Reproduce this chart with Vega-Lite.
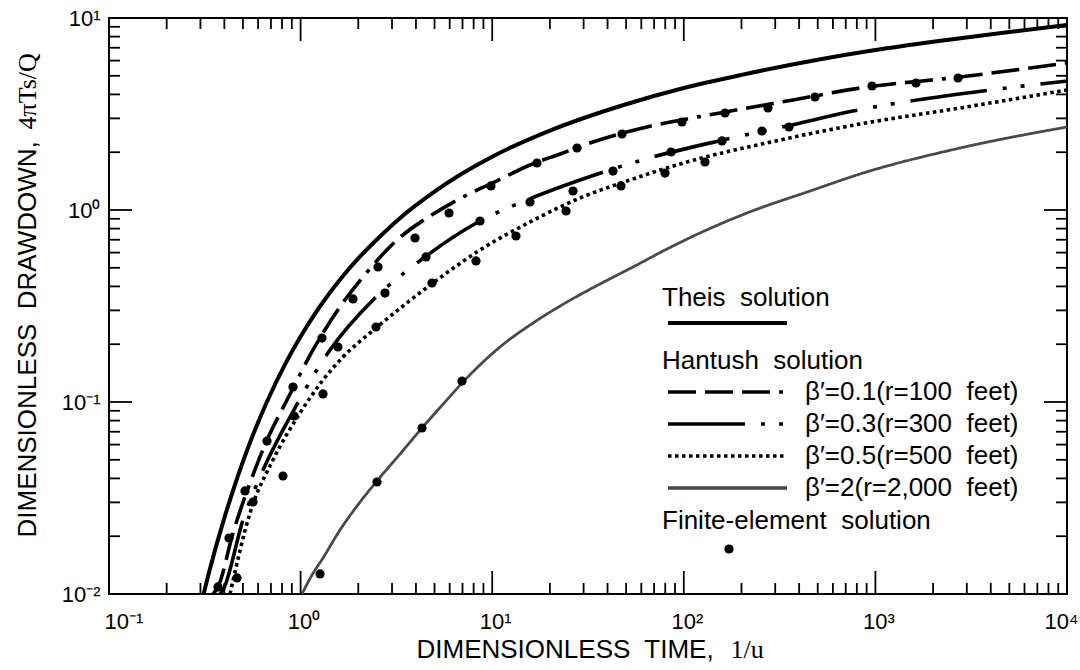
{
  "$schema": "https://vega.github.io/schema/vega-lite/v6.json",
  "width": 958,
  "height": 576,
  "autosize": {"type": "none"},
  "padding": {"left": 109, "top": 18, "right": 13, "bottom": 76},
  "background": "white",
  "config": {
    "view": {"stroke": "black", "strokeWidth": 2},
    "font": "Liberation Sans",
    "axis": {"domain": false, "grid": false, "ticks": false, "labelFont": "Liberation Sans", "titleFont": "Liberation Sans", "labelColor": "black", "titleColor": "black", "titleFontWeight": "normal"},
    "legend": {"orient": "none", "direction": "vertical", "padding": 0, "titleFont": "Liberation Sans", "titleFontSize": 26, "titleFontWeight": "normal", "titleColor": "black", "labelFont": "Liberation Sans", "labelFontSize": 26, "labelColor": "black", "titleLimit": 600, "labelLimit": 600, "rowPadding": 6}
  },
  "datasets": {
    "xticks": [
      {"v": 0.1, "kind": "major"}, {"v": 0.2, "kind": "minor"}, {"v": 0.3, "kind": "minor"}, {"v": 0.4, "kind": "minor"}, {"v": 0.5, "kind": "minor"}, {"v": 0.6, "kind": "minor"}, {"v": 0.7, "kind": "minor"}, {"v": 0.8, "kind": "minor"}, {"v": 0.9, "kind": "minor"},
      {"v": 1, "kind": "major"}, {"v": 2, "kind": "minor"}, {"v": 3, "kind": "minor"}, {"v": 4, "kind": "minor"}, {"v": 5, "kind": "minor"}, {"v": 6, "kind": "minor"}, {"v": 7, "kind": "minor"}, {"v": 8, "kind": "minor"}, {"v": 9, "kind": "minor"},
      {"v": 10, "kind": "major"}, {"v": 20, "kind": "minor"}, {"v": 30, "kind": "minor"}, {"v": 40, "kind": "minor"}, {"v": 50, "kind": "minor"}, {"v": 60, "kind": "minor"}, {"v": 70, "kind": "minor"}, {"v": 80, "kind": "minor"}, {"v": 90, "kind": "minor"},
      {"v": 100, "kind": "major"}, {"v": 200, "kind": "minor"}, {"v": 300, "kind": "minor"}, {"v": 400, "kind": "minor"}, {"v": 500, "kind": "minor"}, {"v": 600, "kind": "minor"}, {"v": 700, "kind": "minor"}, {"v": 800, "kind": "minor"}, {"v": 900, "kind": "minor"},
      {"v": 1000, "kind": "major"}, {"v": 2000, "kind": "minor"}, {"v": 3000, "kind": "minor"}, {"v": 4000, "kind": "minor"}, {"v": 5000, "kind": "minor"}, {"v": 6000, "kind": "minor"}, {"v": 7000, "kind": "minor"}, {"v": 8000, "kind": "minor"}, {"v": 9000, "kind": "minor"},
      {"v": 10000, "kind": "major"}
    ],
    "yticks": [
      {"v": 0.01, "kind": "major"}, {"v": 0.02, "kind": "minor"}, {"v": 0.03, "kind": "minor"}, {"v": 0.04, "kind": "minor"}, {"v": 0.05, "kind": "minor"}, {"v": 0.06, "kind": "minor"}, {"v": 0.07, "kind": "minor"}, {"v": 0.08, "kind": "minor"}, {"v": 0.09, "kind": "minor"},
      {"v": 0.1, "kind": "major"}, {"v": 0.2, "kind": "minor"}, {"v": 0.3, "kind": "minor"}, {"v": 0.4, "kind": "minor"}, {"v": 0.5, "kind": "minor"}, {"v": 0.6, "kind": "minor"}, {"v": 0.7, "kind": "minor"}, {"v": 0.8, "kind": "minor"}, {"v": 0.9, "kind": "minor"},
      {"v": 1, "kind": "major"}, {"v": 2, "kind": "minor"}, {"v": 3, "kind": "minor"}, {"v": 4, "kind": "minor"}, {"v": 5, "kind": "minor"}, {"v": 6, "kind": "minor"}, {"v": 7, "kind": "minor"}, {"v": 8, "kind": "minor"}, {"v": 9, "kind": "minor"},
      {"v": 10, "kind": "major"}
    ],
    "theis": [
      {"t": 0.3125, "s": 0.0101, "solution": "Theis"},
      {"t": 0.3333, "s": 0.01305, "solution": "Theis"},
      {"t": 0.4, "s": 0.02491, "solution": "Theis"},
      {"t": 0.4444, "s": 0.0347, "solution": "Theis"},
      {"t": 0.5, "s": 0.0489, "solution": "Theis"},
      {"t": 0.5714, "s": 0.0695, "solution": "Theis"},
      {"t": 0.6667, "s": 0.1, "solution": "Theis"},
      {"t": 0.8333, "s": 0.1584, "solution": "Theis"},
      {"t": 1, "s": 0.2194, "solution": "Theis"},
      {"t": 1.25, "s": 0.3106, "solution": "Theis"},
      {"t": 1.6667, "s": 0.4544, "solution": "Theis"},
      {"t": 2, "s": 0.5598, "solution": "Theis"},
      {"t": 2.5, "s": 0.7024, "solution": "Theis"},
      {"t": 3.333, "s": 0.915, "solution": "Theis"},
      {"t": 5, "s": 1.247, "solution": "Theis"},
      {"t": 6.667, "s": 1.508, "solution": "Theis"},
      {"t": 10, "s": 1.896, "solution": "Theis"},
      {"t": 20, "s": 2.591, "solution": "Theis"},
      {"t": 50, "s": 3.556, "solution": "Theis"},
      {"t": 100, "s": 4.321, "solution": "Theis"},
      {"t": 200, "s": 5.057, "solution": "Theis"},
      {"t": 500, "s": 6.062, "solution": "Theis"},
      {"t": 1000, "s": 6.806, "solution": "Theis"},
      {"t": 2000, "s": 7.516, "solution": "Theis"},
      {"t": 5000, "s": 8.456, "solution": "Theis"},
      {"t": 10000, "s": 9.194, "solution": "Theis"}
    ],
    "hantush": [
      {"series": "β′=0.1(r=100\u00a0 feet)", "t": 0.349, "s": 0.01},
      {"series": "β′=0.1(r=100\u00a0 feet)", "t": 0.3706, "s": 0.01088},
      {"series": "β′=0.1(r=100\u00a0 feet)", "t": 0.4439, "s": 0.0208},
      {"series": "β′=0.1(r=100\u00a0 feet)", "t": 0.5444, "s": 0.03786},
      {"series": "β′=0.1(r=100\u00a0 feet)", "t": 0.6678, "s": 0.0634},
      {"series": "β′=0.1(r=100\u00a0 feet)", "t": 0.8492, "s": 0.1024},
      {"series": "β′=0.1(r=100\u00a0 feet)", "t": 1.161, "s": 0.1866},
      {"series": "β′=0.1(r=100\u00a0 feet)", "t": 1.605, "s": 0.3126},
      {"series": "β′=0.1(r=100\u00a0 feet)", "t": 2.117, "s": 0.4478},
      {"series": "β′=0.1(r=100\u00a0 feet)", "t": 3.185, "s": 0.6978},
      {"series": "β′=0.1(r=100\u00a0 feet)", "t": 4.736, "s": 0.9306},
      {"series": "β′=0.1(r=100\u00a0 feet)", "t": 7.041, "s": 1.169},
      {"series": "β′=0.1(r=100\u00a0 feet)", "t": 10.6, "s": 1.42},
      {"series": "β′=0.1(r=100\u00a0 feet)", "t": 15.75, "s": 1.715},
      {"series": "β′=0.1(r=100\u00a0 feet)", "t": 23.42, "s": 1.981},
      {"series": "β′=0.1(r=100\u00a0 feet)", "t": 32.38, "s": 2.234},
      {"series": "β′=0.1(r=100\u00a0 feet)", "t": 64.27, "s": 2.706},
      {"series": "β′=0.1(r=100\u00a0 feet)", "t": 154.5, "s": 3.201},
      {"series": "β′=0.1(r=100\u00a0 feet)", "t": 371.5, "s": 3.741},
      {"series": "β′=0.1(r=100\u00a0 feet)", "t": 831, "s": 4.319},
      {"series": "β′=0.1(r=100\u00a0 feet)", "t": 2764, "s": 4.928},
      {"series": "β′=0.1(r=100\u00a0 feet)", "t": 10000, "s": 5.83},
      {"series": "β′=0.3(r=300\u00a0 feet)", "t": 0.3797, "s": 0.01},
      {"series": "β′=0.3(r=300\u00a0 feet)", "t": 0.3936, "s": 0.0105},
      {"series": "β′=0.3(r=300\u00a0 feet)", "t": 0.5005, "s": 0.02429},
      {"series": "β′=0.3(r=300\u00a0 feet)", "t": 0.6366, "s": 0.04423},
      {"series": "β′=0.3(r=300\u00a0 feet)", "t": 0.8806, "s": 0.08354},
      {"series": "β′=0.3(r=300\u00a0 feet)", "t": 1.4236, "s": 0.1866},
      {"series": "β′=0.3(r=300\u00a0 feet)", "t": 2.387, "s": 0.3399},
      {"series": "β′=0.3(r=300\u00a0 feet)", "t": 4.05, "s": 0.5297},
      {"series": "β′=0.3(r=300\u00a0 feet)", "t": 8.637, "s": 0.8763},
      {"series": "β′=0.3(r=300\u00a0 feet)", "t": 15.19, "s": 1.128},
      {"series": "β′=0.3(r=300\u00a0 feet)", "t": 28.72, "s": 1.433},
      {"series": "β′=0.3(r=300\u00a0 feet)", "t": 69.07, "s": 1.888},
      {"series": "β′=0.3(r=300\u00a0 feet)", "t": 160.2, "s": 2.315},
      {"series": "β′=0.3(r=300\u00a0 feet)", "t": 345.6, "s": 2.738},
      {"series": "β′=0.3(r=300\u00a0 feet)", "t": 764, "s": 3.278},
      {"series": "β′=0.3(r=300\u00a0 feet)", "t": 3644, "s": 4.167},
      {"series": "β′=0.3(r=300\u00a0 feet)", "t": 10000, "s": 4.697},
      {"series": "β′=0.5(r=500\u00a0 feet)", "t": 0.4281, "s": 0.01},
      {"series": "β′=0.5(r=500\u00a0 feet)", "t": 0.5444, "s": 0.02641},
      {"series": "β′=0.5(r=500\u00a0 feet)", "t": 0.7175, "s": 0.04987},
      {"series": "β′=0.5(r=500\u00a0 feet)", "t": 0.9929, "s": 0.0876},
      {"series": "β′=0.5(r=500\u00a0 feet)", "t": 1.309, "s": 0.1302},
      {"series": "β′=0.5(r=500\u00a0 feet)", "t": 1.664, "s": 0.1716},
      {"series": "β′=0.5(r=500\u00a0 feet)", "t": 2.475, "s": 0.2428},
      {"series": "β′=0.5(r=500\u00a0 feet)", "t": 4.909, "s": 0.4167},
      {"series": "β′=0.5(r=500\u00a0 feet)", "t": 8.637, "s": 0.6191},
      {"series": "β′=0.5(r=500\u00a0 feet)", "t": 15.75, "s": 0.866},
      {"series": "β′=0.5(r=500\u00a0 feet)", "t": 28.72, "s": 1.155},
      {"series": "β′=0.5(r=500\u00a0 feet)", "t": 52.4, "s": 1.433},
      {"series": "β′=0.5(r=500\u00a0 feet)", "t": 95.5, "s": 1.736},
      {"series": "β′=0.5(r=500\u00a0 feet)", "t": 317.8, "s": 2.315},
      {"series": "β′=0.5(r=500\u00a0 feet)", "t": 831, "s": 2.805},
      {"series": "β′=0.5(r=500\u00a0 feet)", "t": 2764, "s": 3.398},
      {"series": "β′=0.5(r=500\u00a0 feet)", "t": 10000, "s": 4.217},
      {"series": "β′=2(r=2,000\u00a0 feet)", "t": 1.017, "s": 0.01},
      {"series": "β′=2(r=2,000\u00a0 feet)", "t": 1.147, "s": 0.01256},
      {"series": "β′=2(r=2,000\u00a0 feet)", "t": 1.309, "s": 0.0154},
      {"series": "β′=2(r=2,000\u00a0 feet)", "t": 1.605, "s": 0.02154},
      {"series": "β′=2(r=2,000\u00a0 feet)", "t": 1.97, "s": 0.02873},
      {"series": "β′=2(r=2,000\u00a0 feet)", "t": 2.504, "s": 0.03878},
      {"series": "β′=2(r=2,000\u00a0 feet)", "t": 3.303, "s": 0.05359},
      {"series": "β′=2(r=2,000\u00a0 feet)", "t": 4.301, "s": 0.07321},
      {"series": "β′=2(r=2,000\u00a0 feet)", "t": 5.671, "s": 0.1},
      {"series": "β′=2(r=2,000\u00a0 feet)", "t": 7.041, "s": 0.1271},
      {"series": "β′=2(r=2,000\u00a0 feet)", "t": 10.98, "s": 0.1934},
      {"series": "β′=2(r=2,000\u00a0 feet)", "t": 16.33, "s": 0.2579},
      {"series": "β′=2(r=2,000\u00a0 feet)", "t": 24.57, "s": 0.3318},
      {"series": "β′=2(r=2,000\u00a0 feet)", "t": 36.52, "s": 0.4118},
      {"series": "β′=2(r=2,000\u00a0 feet)", "t": 54.31, "s": 0.5048},
      {"series": "β′=2(r=2,000\u00a0 feet)", "t": 81.7, "s": 0.6263},
      {"series": "β′=2(r=2,000\u00a0 feet)", "t": 121.5, "s": 0.7591},
      {"series": "β′=2(r=2,000\u00a0 feet)", "t": 213.8, "s": 0.9647},
      {"series": "β′=2(r=2,000\u00a0 feet)", "t": 472.4, "s": 1.271},
      {"series": "β′=2(r=2,000\u00a0 feet)", "t": 831, "s": 1.54},
      {"series": "β′=2(r=2,000\u00a0 feet)", "t": 2764, "s": 2.103},
      {"series": "β′=2(r=2,000\u00a0 feet)", "t": 10000, "s": 2.706}
    ],
    "fe": [
      {"t": 0.3706, "s": 0.01088, "method": "FE"},
      {"t": 0.4229, "s": 0.01957, "method": "FE"},
      {"t": 0.4657, "s": 0.01212, "method": "FE"},
      {"t": 0.5126, "s": 0.0344, "method": "FE"},
      {"t": 0.5644, "s": 0.03014, "method": "FE"},
      {"t": 0.6678, "s": 0.06263, "method": "FE"},
      {"t": 0.8092, "s": 0.04117, "method": "FE"},
      {"t": 0.9127, "s": 0.1197, "method": "FE"},
      {"t": 0.9239, "s": 0.08455, "method": "FE"},
      {"t": 1.293, "s": 0.2154, "method": "FE"},
      {"t": 1.309, "s": 0.1101, "method": "FE"},
      {"t": 1.567, "s": 0.1934, "method": "FE"},
      {"t": 1.877, "s": 0.344, "method": "FE"},
      {"t": 2.475, "s": 0.2458, "method": "FE"},
      {"t": 2.535, "s": 0.5048, "method": "FE"},
      {"t": 2.757, "s": 0.3695, "method": "FE"},
      {"t": 3.955, "s": 0.7148, "method": "FE"},
      {"t": 4.512, "s": 0.5693, "method": "FE"},
      {"t": 4.851, "s": 0.4167, "method": "FE"},
      {"t": 5.951, "s": 0.9647, "method": "FE"},
      {"t": 8.232, "s": 0.5427, "method": "FE"},
      {"t": 8.637, "s": 0.8763, "method": "FE"},
      {"t": 9.856, "s": 1.334, "method": "FE"},
      {"t": 13.31, "s": 0.7321, "method": "FE"},
      {"t": 15.75, "s": 1.101, "method": "FE"},
      {"t": 17.13, "s": 1.757, "method": "FE"},
      {"t": 24.28, "s": 0.988, "method": "FE"},
      {"t": 26.41, "s": 1.256, "method": "FE"},
      {"t": 27.71, "s": 2.103, "method": "FE"},
      {"t": 42.71, "s": 1.596, "method": "FE"},
      {"t": 47.01, "s": 1.334, "method": "FE"},
      {"t": 47.59, "s": 2.488, "method": "FE"},
      {"t": 79.78, "s": 1.558, "method": "FE"},
      {"t": 85.76, "s": 2.005, "method": "FE"},
      {"t": 97.86, "s": 2.873, "method": "FE"},
      {"t": 129.0, "s": 1.778, "method": "FE"},
      {"t": 158.3, "s": 2.288, "method": "FE"},
      {"t": 164.1, "s": 3.201, "method": "FE"},
      {"t": 255.9, "s": 2.579, "method": "FE"},
      {"t": 275.1, "s": 3.398, "method": "FE"},
      {"t": 354.1, "s": 2.706, "method": "FE"},
      {"t": 484.0, "s": 3.877, "method": "FE"},
      {"t": 960, "s": 4.424, "method": "FE"},
      {"t": 1629, "s": 4.586, "method": "FE"},
      {"t": 2699, "s": 4.87, "method": "FE"},
      {"t": 1.263, "s": 0.01272, "method": "FE"},
      {"t": 2.504, "s": 0.03831, "method": "FE"},
      {"t": 4.301, "s": 0.07321, "method": "FE"},
      {"t": 6.957, "s": 0.1286, "method": "FE"}
    ]
  },
  "layer": [
    {
      "data": {"name": "theis"},
      "mark": {"type": "line", "stroke": "black", "strokeWidth": 4, "interpolate": "monotone", "clip": true},
      "encoding": {
        "x": {"field": "t", "type": "quantitative", "scale": {"type": "log", "domain": [0.1, 10000], "nice": false},
          "axis": {"orient": "bottom", "ticks": false, "labels": false, "domain": false, "values": [1],
            "title": "1/u", "titleFont": "Liberation Serif", "titleFontSize": 26, "titleX": 621, "titleY": 63, "titleAlign": "left", "titleBaseline": "alphabetic"}},
        "y": {"field": "s", "type": "quantitative", "scale": {"type": "log", "domain": [0.01, 10], "nice": false},
          "axis": {"orient": "left", "ticks": false, "labels": false, "domain": false, "values": [1],
            "title": "4πTs/Q", "titleFont": "Liberation Serif", "titleFontSize": 26, "titleX": -74, "titleY": 111, "titleAlign": "left", "titleAngle": 270, "titleBaseline": "alphabetic"}},
        "opacity": {"field": "solution", "type": "nominal", "scale": {"type": "ordinal", "domain": ["Theis"], "range": [1]},
          "legend": {"title": "Theis\u00a0 solution", "legendX": 553, "legendY": 267, "titlePadding": -1, "symbolType": "M0,0H23.8", "symbolSize": 100, "symbolStrokeWidth": 4, "symbolStrokeColor": "black", "symbolFillColor": "transparent", "symbolOffset": -7, "labelExpr": "''"}}
      }
    },
    {
      "data": {"name": "hantush"},
      "mark": {"type": "line", "interpolate": "monotone", "clip": true},
      "encoding": {
        "x": {"field": "t", "type": "quantitative",
          "axis": {"orient": "bottom", "values": [0.1, 1, 10, 100, 1000, 10000], "ticks": false, "domain": false,
            "labelExpr": "datum.value < 0.5 ? '10⁻¹' : datum.value < 5 ? '10⁰' : datum.value < 50 ? '10¹' : datum.value < 500 ? '10²' : datum.value < 5000 ? '10³' : '10⁴'",
            "labelFontSize": 22, "labelPadding": 17, "labelBaseline": "top", "labelOffset": 3, "labelFlush": true, "labelFlushOffset": 8, "labelOverlap": false,
            "title": "DIMENSIONLESS\u00a0 TIME,", "titleFontSize": 26, "titleX": 307, "titleY": 63, "titleAlign": "left", "titleBaseline": "alphabetic"}},
        "y": {"field": "s", "type": "quantitative",
          "axis": {"orient": "left", "values": [0.01, 0.1, 1, 10], "ticks": false, "domain": false,
            "labelExpr": "datum.value < 0.05 ? '10⁻²' : datum.value < 0.5 ? '10⁻¹' : datum.value < 5 ? '10⁰' : '10¹'",
            "labelFontSize": 22, "labelPadding": 9, "labelBaseline": "middle", "labelAlign": "right", "labelFlush": false, "labelOverlap": false,
            "title": "DIMENSIONLESS\u00a0 DRAWDOWN,", "titleFontSize": 26, "titleX": -74, "titleY": 519, "titleAlign": "left", "titleAngle": 270, "titleBaseline": "alphabetic"}},
        "strokeWidth": {"condition": {"test": "datum.series == 'β′=2(r=2,000\u00a0 feet)'", "value": 2.8}, "value": 3.6},
        "color": {"field": "series", "type": "nominal",
          "scale": {"domain": ["β′=0.1(r=100\u00a0 feet)", "β′=0.3(r=300\u00a0 feet)", "β′=0.5(r=500\u00a0 feet)", "β′=2(r=2,000\u00a0 feet)"], "range": ["#000000", "#000000", "#000000", "#4a4a4a"]},
          "legend": {"title": "Hantush\u00a0 solution", "legendX": 553, "legendY": 330, "titlePadding": 5, "symbolType": "M0,0H23.8", "symbolSize": 100, "symbolStrokeWidth": 3.6, "symbolFillColor": "transparent", "symbolOffset": -7, "labelOffset": 124}},
        "strokeDash": {"field": "series", "type": "nominal",
          "scale": {"domain": ["β′=0.1(r=100\u00a0 feet)", "β′=0.3(r=300\u00a0 feet)", "β′=0.5(r=500\u00a0 feet)", "β′=2(r=2,000\u00a0 feet)"], "range": [[28, 9, 28, 9, 28, 9, 4, 9], [77, 16, 4, 14, 4, 16], [3.5, 3.5], [1, 0]]},
          "legend": {"title": "Hantush\u00a0 solution", "legendX": 553, "legendY": 330, "titlePadding": 5, "symbolType": "M0,0H23.8", "symbolSize": 100, "symbolStrokeWidth": 3.6, "symbolFillColor": "transparent", "symbolOffset": -7, "labelOffset": 124}}
      }
    },
    {
      "data": {"name": "fe"},
      "mark": {"type": "point", "filled": true, "color": "black", "size": 85, "opacity": 1, "clip": true},
      "encoding": {
        "x": {"field": "t", "type": "quantitative", "axis": null},
        "y": {"field": "s", "type": "quantitative", "axis": null},
        "shape": {"field": "method", "type": "nominal", "scale": {"domain": ["FE"], "range": ["circle"]},
          "legend": {"title": "Finite-element\u00a0 solution", "legendX": 553, "legendY": 490, "titlePadding": 2, "symbolType": "circle", "symbolSize": 85, "symbolFillColor": "black", "symbolStrokeColor": "black", "symbolStrokeWidth": 0, "symbolOffset": 54, "labelExpr": "''"}}
      }
    },
    {
      "data": {"name": "xticks"},
      "transform": [{"filter": "datum.kind == 'minor'"}],
      "mark": {"type": "rule", "color": "black", "strokeWidth": 1.8},
      "encoding": {
        "x": {"field": "v", "type": "quantitative", "axis": null},
        "y": {"datum": 0.01, "type": "quantitative", "axis": null},
        "y2": {"datum": 0.01141}
      }
    },
    {
      "data": {"name": "xticks"},
      "transform": [{"filter": "datum.kind == 'major'"}],
      "mark": {"type": "rule", "color": "black", "strokeWidth": 1.8},
      "encoding": {
        "x": {"field": "v", "type": "quantitative", "axis": null},
        "y": {"datum": 0.01, "type": "quantitative", "axis": null},
        "y2": {"datum": 0.01318}
      }
    },
    {
      "data": {"name": "xticks"},
      "transform": [{"filter": "datum.kind == 'minor'"}],
      "mark": {"type": "rule", "color": "black", "strokeWidth": 1.8},
      "encoding": {
        "x": {"field": "v", "type": "quantitative", "axis": null},
        "y": {"datum": 10, "type": "quantitative", "axis": null},
        "y2": {"datum": 8.764}
      }
    },
    {
      "data": {"name": "xticks"},
      "transform": [{"filter": "datum.kind == 'major'"}],
      "mark": {"type": "rule", "color": "black", "strokeWidth": 1.8},
      "encoding": {
        "x": {"field": "v", "type": "quantitative", "axis": null},
        "y": {"datum": 10, "type": "quantitative", "axis": null},
        "y2": {"datum": 7.587}
      }
    },
    {
      "data": {"name": "yticks"},
      "transform": [{"filter": "datum.kind == 'minor'"}],
      "mark": {"type": "rule", "color": "black", "strokeWidth": 1.8},
      "encoding": {
        "y": {"field": "v", "type": "quantitative", "axis": null},
        "x": {"datum": 0.1, "type": "quantitative", "axis": null},
        "x2": {"datum": 0.1141}
      }
    },
    {
      "data": {"name": "yticks"},
      "transform": [{"filter": "datum.kind == 'major'"}],
      "mark": {"type": "rule", "color": "black", "strokeWidth": 1.8},
      "encoding": {
        "y": {"field": "v", "type": "quantitative", "axis": null},
        "x": {"datum": 0.1, "type": "quantitative", "axis": null},
        "x2": {"datum": 0.1318}
      }
    },
    {
      "data": {"name": "yticks"},
      "transform": [{"filter": "datum.kind == 'minor'"}],
      "mark": {"type": "rule", "color": "black", "strokeWidth": 1.8},
      "encoding": {
        "y": {"field": "v", "type": "quantitative", "axis": null},
        "x": {"datum": 10000, "type": "quantitative", "axis": null},
        "x2": {"datum": 8764}
      }
    },
    {
      "data": {"name": "yticks"},
      "transform": [{"filter": "datum.kind == 'major'"}],
      "mark": {"type": "rule", "color": "black", "strokeWidth": 1.8},
      "encoding": {
        "y": {"field": "v", "type": "quantitative", "axis": null},
        "x": {"datum": 10000, "type": "quantitative", "axis": null},
        "x2": {"datum": 7587}
      }
    }
  ],
  "resolve": {
    "axis": {"x": "independent", "y": "independent"}
  }
}
